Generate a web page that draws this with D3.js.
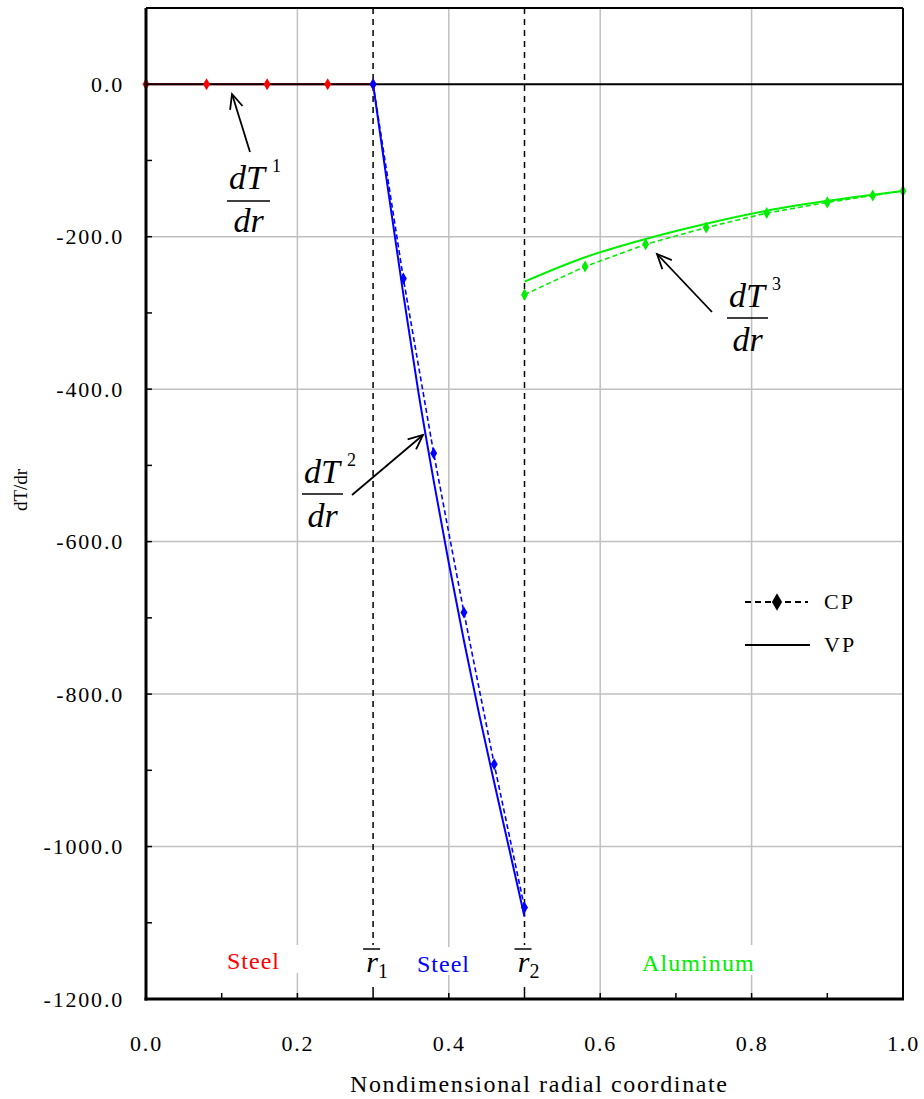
<!DOCTYPE html>
<html><head><meta charset="utf-8">
<script src="https://cdn.jsdelivr.net/npm/d3@7"></script>
<style>body{margin:0;background:#fff}svg{display:block}svg text{font-family:"Liberation Serif","Times New Roman",Times,"DejaVu Serif",serif !important}</style>
</head><body><div id="c"></div>
<script>
// ---- data ----
const xTicks = [0.0, 0.2, 0.4, 0.6, 0.8, 1.0];
const yTicks = [0, -200, -400, -600, -800, -1000, -1200];
// Region 1 (steel, red)
const cp1X = [0, 0.08, 0.16, 0.24, 0.30];
const cp1Y = [0, 0, 0, 0, 0];
const vp1X = [0, 0.30];
const vp1Y = [0, 0];
// Region 2 (steel, blue)
const cp2X = [0.30, 0.34, 0.38, 0.42, 0.46, 0.50];
const cp2Y = [0, -255, -484, -693, -892, -1080];
const vp2X = [0.30, 0.32, 0.34, 0.36, 0.38, 0.40, 0.42, 0.44, 0.46, 0.48, 0.50];
const vp2Y = [0, -140, -276, -405, -520, -628, -730, -826, -916, -1004, -1092];
// Region 3 (aluminum, green)
const cp3X = [0.50, 0.58, 0.66, 0.74, 0.82, 0.90, 0.96, 1.00];
const cp3Y = [-276, -239, -210, -188, -169, -155, -146, -140];
const vp3X = [0.50, 0.58, 0.66, 0.74, 0.82, 0.90, 1.00];
const vp3Y = [-259, -227, -203, -183, -166, -153, -140];
const interfaces = [0.3, 0.5];

const FONT = '"Liberation Serif","Times New Roman",Times,"DejaVu Serif",serif';
const W = 924, H = 1099;
const svg = d3.select("#c").append("svg").attr("width", W).attr("height", H).attr("font-family", FONT);
const x = d3.scaleLinear().domain([0, 1]).range([146, 903]);
const y = d3.scaleLinear().domain([100, -1200]).range([8, 999]);

// grid
const g = svg.append("g");
g.selectAll(".vg").data([0.2,0.4,0.6,0.8]).enter().append("line")
 .attr("x1", d=>x(d)).attr("x2", d=>x(d)).attr("y1", y(100)).attr("y2", y(-1200))
 .attr("stroke", "#c0c0c0").attr("stroke-width", 1.5);
g.selectAll(".hg").data([-200,-400,-600,-800,-1000]).enter().append("line")
 .attr("x1", x(0)).attr("x2", x(1)).attr("y1", d=>y(d)).attr("y2", d=>y(d))
 .attr("stroke", "#c0c0c0").attr("stroke-width", 1.5);

// interface dashed lines
svg.selectAll(".if").data(interfaces).enter().append("line")
 .attr("x1", d=>x(d)).attr("x2", d=>x(d)).attr("y1", y(100)).attr("y2", y(-1200))
 .attr("stroke", "#000").attr("stroke-width", 1.5).attr("stroke-dasharray", "6,5");

// series
const line = d3.line().x(d=>x(d[0])).y(d=>y(d[1]));
const curve = d3.line().x(d=>x(d[0])).y(d=>y(d[1])).curve(d3.curveMonotoneX);
const zip = (a,b)=>a.map((v,i)=>[v,b[i]]);
const series = [
  {cx:cp1X, cy:cp1Y, vx:vp1X, vy:vp1Y, c:"#ff0000"},
  {cx:cp2X, cy:cp2Y, vx:vp2X, vy:vp2Y, c:"#0000ff"},
  {cx:cp3X, cy:cp3Y, vx:vp3X, vy:vp3Y, c:"#00ee00"}
];
const diamond = d3.symbol().type(d3.symbolDiamond).size(42);
series.forEach(s=>{
  svg.append("path").attr("d", curve(zip(s.vx, s.vy))).attr("fill","none")
    .attr("stroke", s.c).attr("stroke-width", 2);
  svg.append("path").attr("d", line(zip(s.cx, s.cy))).attr("fill","none")
    .attr("stroke", s.c).attr("stroke-width", 1.6).attr("stroke-dasharray","5,3");
});
// zero line
svg.append("line").attr("x1", x(0)).attr("x2", x(1)).attr("y1", y(0)).attr("y2", y(0))
  .attr("stroke", "#000").attr("stroke-width", 2);
series.forEach(s=>{
  svg.selectAll(null).data(zip(s.cx, s.cy)).enter().append("path")
    .attr("d", diamond).attr("transform", d=>`translate(${x(d[0])},${y(d[1])})`)
    .attr("fill", s.c);
});

// axes
const fmt = d => d.toFixed(1);
const yAxis = d3.axisLeft(y).tickValues(yTicks).tickFormat(fmt).tickSize(0).tickPadding(22);
const ya = svg.append("g").attr("transform", `translate(${x(0)},0)`).call(yAxis).attr("font-family", FONT);
ya.select(".domain").remove();
ya.selectAll("text").attr("font-size", 22).attr("letter-spacing", 1.8).attr("fill","#000");
const xAxis = d3.axisBottom(x).tickValues(xTicks).tickFormat(fmt).tickSize(0).tickPadding(36);
const xa = svg.append("g").attr("transform", `translate(0,${y(-1200)})`).call(xAxis).attr("font-family", FONT);
xa.select(".domain").remove();
xa.selectAll("text").attr("font-size", 22).attr("letter-spacing", 1.8).attr("fill","#000");
// minor/inward ticks
svg.selectAll(".yt").data(d3.range(100, -1201, -100)).enter().append("line")
  .attr("x1", x(0)).attr("x2", x(0)+6).attr("y1", d=>y(d)).attr("y2", d=>y(d)).attr("stroke","#000").attr("stroke-width",1.5);
svg.selectAll(".xt").data(d3.range(0, 1.01, 0.1)).enter().append("line")
  .attr("x1", d=>x(d)).attr("x2", d=>x(d)).attr("y1", y(-1200)).attr("y2", y(-1200)-6).attr("stroke","#000").attr("stroke-width",1.5);
// frame
svg.append("line").attr("x1",x(0)).attr("x2",x(1)).attr("y1",y(100)).attr("y2",y(100)).attr("stroke","#000").attr("stroke-width",2);
svg.append("line").attr("x1",x(1)).attr("x2",x(1)).attr("y1",y(100)).attr("y2",y(-1200)).attr("stroke","#000").attr("stroke-width",2);
svg.append("line").attr("x1",x(0)).attr("x2",x(0)).attr("y1",y(100)).attr("y2",y(-1200)+1.5).attr("stroke","#000").attr("stroke-width",3);
svg.append("line").attr("x1",x(0)-1.5).attr("x2",x(1)+1).attr("y1",y(-1200)).attr("y2",y(-1200)).attr("stroke","#000").attr("stroke-width",3);

// axis titles
svg.append("text").attr("transform","translate(27,490) rotate(-90)").attr("text-anchor","middle")
  .attr("font-size",19).text("dT/dr");
svg.append("text").attr("x",350).attr("y",1092)
  .attr("font-size",24).attr("textLength",377).attr("lengthAdjust","spacing").text("Nondimensional radial coordinate");

// region labels with white boxes
function boxLabel(bx, by, bw, bh, tx, base, txt, color, ls){
  svg.append("rect").attr("x", bx).attr("y", by).attr("width", bw).attr("height", bh).attr("fill","#fff");
  svg.append("text").attr("x", tx).attr("y", base).attr("font-size",24).attr("letter-spacing", ls).attr("fill",color).text(txt);
}
boxLabel(223, 945, 88, 28, 227, 969, "Steel", "#ff0000", 1);
boxLabel(413, 947, 70, 28, 417, 972, "Steel", "#0000ff", 1);
boxLabel(630, 945, 135, 30, 642, 971, "Aluminum", "#00ee00", 1.1);
function rbar(cx, sub){
  svg.append("rect").attr("x", cx-15).attr("y", 945).attr("width", 30).attr("height", 40).attr("fill","#fff");
  svg.append("line").attr("x1",cx-10).attr("x2",cx+7).attr("y1",949).attr("y2",949).attr("stroke","#000").attr("stroke-width",1.5);
  svg.append("text").attr("x", cx-1).attr("y", 972).attr("text-anchor","middle").attr("font-size",30).attr("font-style","italic").text("r");
  svg.append("text").attr("x", cx+10).attr("y", 978).attr("text-anchor","middle").attr("font-size",20).text(sub);
}
rbar(x(0.3), "1");
rbar(x(0.5), "2");

// fraction annotations
function frac(left, numBase, barY, denBase, sup, barW){
  svg.append("text").attr("x", left+2).attr("y", numBase).attr("font-size",34).attr("font-style","italic").text("dT");
  svg.append("text").attr("x", left+45).attr("y", numBase-17).attr("font-size",18).text(sup);
  svg.append("line").attr("x1", left).attr("x2", left+barW).attr("y1", barY).attr("y2", barY).attr("stroke","#000").attr("stroke-width",1.5);
  svg.append("text").attr("x", left+barW/2).attr("y", denBase).attr("text-anchor","middle").attr("font-size",34).attr("font-style","italic").text("dr");
}
frac(227, 189, 201, 232, "1", 43);
frac(302, 483, 494, 527, "2", 41);
frac(727, 307, 318, 351, "3", 41);

function arrow(x1,y1,x2,y2){
  svg.append("line").attr("x1",x1).attr("y1",y1).attr("x2",x2).attr("y2",y2).attr("stroke","#000").attr("stroke-width",1.8);
  const a = Math.atan2(y2-y1, x2-x1), L = 16, sp = 0.42;
  const pts = [[x2 - L*Math.cos(a-sp), y2 - L*Math.sin(a-sp)],[x2,y2],[x2 - L*Math.cos(a+sp), y2 - L*Math.sin(a+sp)]];
  svg.append("path").attr("d", d3.line()(pts)).attr("fill","none").attr("stroke","#000").attr("stroke-width",1.8);
}
arrow(250,152,232,94);
arrow(352,495,423,435);
arrow(712,312,657,254);

// legend
const lg = svg.append("g");
lg.append("line").attr("x1",745).attr("x2",808).attr("y1",602).attr("y2",602).attr("stroke","#000").attr("stroke-width",1.8).attr("stroke-dasharray","6,4");
lg.append("path").attr("d", d3.symbol().type(d3.symbolDiamond).size(90)).attr("transform","translate(777,602)").attr("fill","#000");
lg.append("text").attr("x",824).attr("y",609).attr("font-size",22).attr("letter-spacing",2).text("CP");
lg.append("line").attr("x1",745).attr("x2",810).attr("y1",645).attr("y2",645).attr("stroke","#000").attr("stroke-width",1.8);
lg.append("text").attr("x",824).attr("y",652).attr("font-size",22).attr("letter-spacing",2).text("VP");
</script></body></html>
